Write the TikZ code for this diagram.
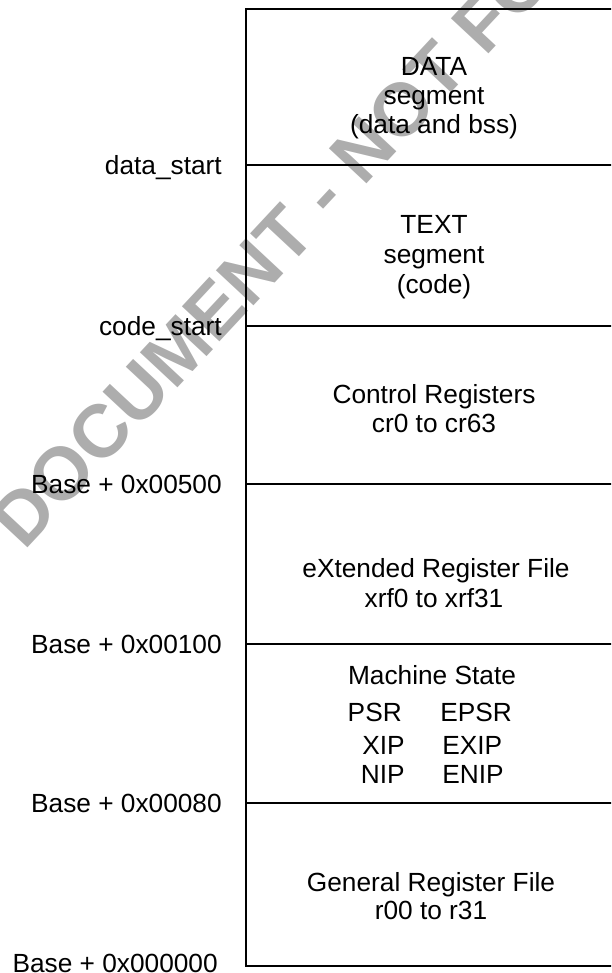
\documentclass[tikz,border=0pt]{standalone}
\usepackage{fontspec}
\setmainfont{Liberation Sans}
\begin{document}
\begin{tikzpicture}[x=0.75pt,y=-0.75pt,
  addr/.style={anchor=base east, font=\fontsize{19.7}{22}\selectfont, inner sep=0pt},
  seg/.style={anchor=base, font=\fontsize{19.7}{22}\selectfont, inner sep=0pt},
  colr/.style={anchor=base east, font=\fontsize{19.7}{22}\selectfont, inner sep=0pt},
  coll/.style={anchor=base west, font=\fontsize{19.7}{22}\selectfont, inner sep=0pt},
  sepline/.style={line width=1.6pt},
  wm/.style={anchor=base west, rotate=47, inner sep=0pt, text=black!32,
    font=\fontsize{56}{60}\selectfont\bfseries}]
\useasboundingbox (0,0) rectangle (611,973);
\clip (0,0) rectangle (611,973);
% watermark
\node[wm] (wmark) at (24,552) {DOCUMENT - NOT FOR};
% memory map frame
\coordinate (tl) at (246,9);
\coordinate (bl) at (246,966);
\draw[sepline] (625,9) -- (tl) -- (bl) -- (625,966);
\foreach \yy in {165,326,484,644,803} \draw[sepline] (246,\yy) -- (625,\yy);
% address labels
\node[addr] (l1) at (222,174.5) {data\_start};
\node[addr] (l2) at (222,335.5) {code\_start};
\node[addr] (l3) at (222,493.5) {Base + 0x00500};
\node[addr] (l4) at (222,653.5) {Base + 0x00100};
\node[addr] (l5) at (222,812.5) {Base + 0x00080};
\node[addr] (l6) at (218,972) {Base + 0x000000};
% segments
\node[seg] (d1) at (434,76) {DATA};
\node[seg] (d2) at (434,105) {segment};
\node[seg] (d3) at (434,134) {(data and bss)};
\node[seg] (t1) at (434,234) {TEXT};
\node[seg] (t2) at (434,264) {segment};
\node[seg] (t3) at (434,293) {(code)};
\node[seg] (c1) at (434,403) {Control Registers};
\node[seg] (c2) at (434,432) {cr0 to cr63};
\node[seg] (x1) at (436,577) {eXtended Register File};
\node[seg] (x2) at (434,607) {xrf0 to xrf31};
\node[seg] (m1) at (432,684) {Machine State};
\node[colr] (m2) at (402,721) {PSR};
\node[coll] (m3) at (440,721) {EPSR};
\node[colr] (m4) at (405,754) {XIP};
\node[coll] (m5) at (442,754) {EXIP};
\node[colr] (m6) at (405,783) {NIP};
\node[coll] (m7) at (442,783) {ENIP};
\node[seg] (g1) at (431,891) {General Register File};
\node[seg] (g2) at (431,919) {r00 to r31};
\end{tikzpicture}
\end{document}
